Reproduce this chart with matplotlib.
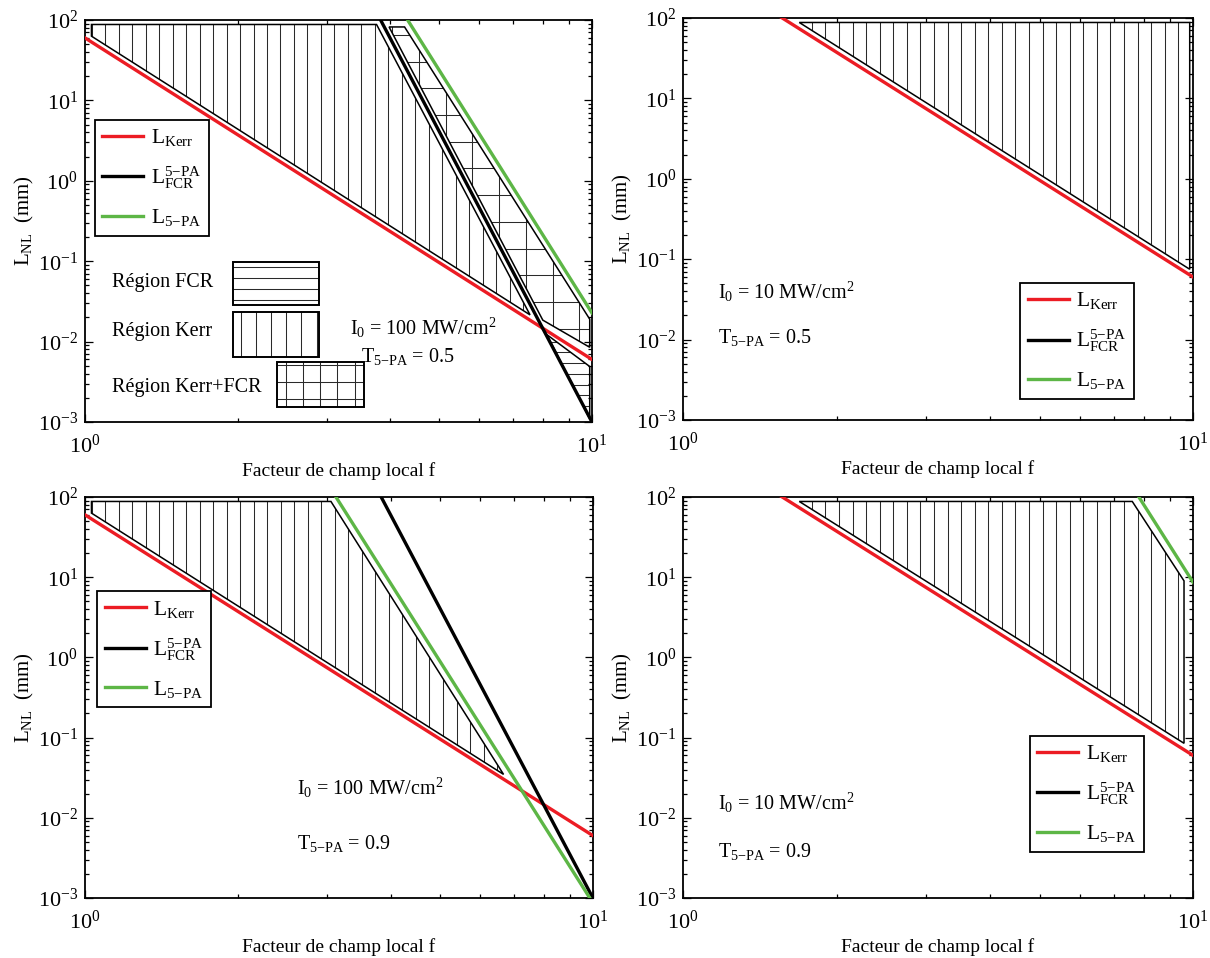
import numpy as np
import matplotlib
matplotlib.use("Agg")
import matplotlib.pyplot as plt
from matplotlib.collections import LineCollection
from matplotlib.patches import Polygon, Rectangle
from matplotlib.ticker import LogLocator, NullFormatter

plt.rcParams["font.family"] = ["Liberation Serif", "DejaVu Serif"]
plt.rcParams["mathtext.fontset"] = "custom"
plt.rcParams["mathtext.rm"] = "Liberation Serif"
plt.rcParams["mathtext.it"] = "Liberation Serif:italic"
plt.rcParams["mathtext.bf"] = "Liberation Serif:bold"
plt.rcParams["mathtext.default"] = "regular"

RED = "#ec1c24"
GREEN = "#5db646"

# --- lines (end points) ----------------------------------------------------
f_kerr = [1.0, 10.0]
L_kerr_100 = [60.0, 0.006]      # I0 = 100 MW/cm2
L_kerr_10 = [600.0, 0.06]       # I0 = 10 MW/cm2

f_fcr_100 = [3.83, 10.0]
L_fcr_100 = [100.0, 1e-3]
f_fcr_10 = [9.0, 10.0]
L_fcr_10 = [354.0, 100.0]

f_5pa_100_05 = [4.33, 10.0]
L_5pa_100_05 = [100.0, 0.0227]
f_5pa_100_09 = [3.12, 10.0]
L_5pa_100_09 = [100.0, 8.7e-4]
f_5pa_10_05 = [8.5, 10.0]
L_5pa_10_05 = [1160.0, 227.0]
f_5pa_10_09 = [7.83, 10.0]
L_5pa_10_09 = [100.0, 8.65]

# --- hatched regions (polygon vertices) ------------------------------------
kerr_tl_f = [1.03, 3.76, 7.55, 1.03]
kerr_tl_L = [88, 88, 0.0215, 63]
mix_tl_f = [3.98, 4.27, 9.9, 9.9, 8.0]
mix_tl_L = [82, 82, 0.019, 0.0085, 0.0185]
fcr_tl_f = [8.15, 9.9, 9.9]
fcr_tl_L = [0.0122, 0.0049, 0.0011]

kerr_tr_f = [1.69, 9.85, 9.85]
kerr_tr_L = [88, 88, 0.075]

kerr_bl_f = [1.03, 3.05, 6.67, 1.03]
kerr_bl_L = [88, 88, 0.0348, 63]

kerr_br_f = [1.69, 7.6, 9.6, 9.6]
kerr_br_L = [88, 88, 9.0, 0.085]

legend_labels = [r"L$_{\mathrm{Kerr}}$", r"L$_{\mathrm{FCR}}^{5{-}\mathrm{PA}}$",
                 r"L$_{5{-}\mathrm{PA}}$"]


def hatch(ax, patch, dx=None, dy=None, x0=0.0, y0=0.0):
    segs = []
    if dx:
        for x in np.arange(x0 + dx / 2, 1, dx):
            segs.append([(x, 0), (x, 1)])
    if dy:
        for y in np.arange(y0 + dy / 2, 1, dy):
            segs.append([(0, y), (1, y)])
    lc = LineCollection(segs, colors="#2a2a2a", linewidths=0.75,
                        transform=ax.transAxes, zorder=1.5)
    ax.add_collection(lc, autolim=False)
    lc.set_clip_path(patch)


def region(ax, f, L, dx=None, dy=None):
    poly = Polygon(np.column_stack([f, L]), closed=True, facecolor="none",
                   edgecolor="k", lw=1.1, zorder=2)
    ax.add_patch(poly)
    hatch(ax, poly, dx, dy)


def setup(ax):
    ax.set_xscale("log")
    ax.set_yscale("log")
    ax.set_xlim(1, 10)
    ax.set_ylim(1e-3, 1e2)
    ax.set_xticks([1, 10])
    ax.set_yticks([1e-3, 1e-2, 1e-1, 1, 10, 100])
    ax.xaxis.set_minor_locator(LogLocator(subs=np.arange(2, 10)))
    ax.yaxis.set_minor_locator(LogLocator(subs=np.arange(2, 10), numticks=20))
    ax.xaxis.set_minor_formatter(NullFormatter())
    ax.yaxis.set_minor_formatter(NullFormatter())
    ax.tick_params(which="both", direction="in", top=True, right=True,
                   labelsize=16, width=0.9)
    ax.tick_params(which="major", length=6)
    ax.tick_params(which="minor", length=3)
    ax.tick_params(axis="x", pad=9)
    ax.tick_params(axis="y", pad=5)
    for s in ax.spines.values():
        s.set_linewidth(1.3)
    ax.set_xlabel("Facteur de champ local f", fontsize=14, labelpad=3)
    ax.set_ylabel(r"L$_{\mathrm{NL}}$  (mm)", fontsize=15, labelpad=1)


def lines(ax, kerr, fcr, pa):
    ax.plot(kerr[0], kerr[1], color=RED, lw=2.4, label=legend_labels[0], zorder=3)
    ax.plot(fcr[0], fcr[1], color="k", lw=2.4, label=legend_labels[1], zorder=3)
    ax.plot(pa[0], pa[1], color=GREEN, lw=2.4, label=legend_labels[2], zorder=3)


def legend(ax, x, y):
    leg = ax.legend(loc="upper left", bbox_to_anchor=(x, y), fontsize=15.5,
                    frameon=True, fancybox=False, framealpha=1, edgecolor="k",
                    borderaxespad=0, handlelength=1.9, labelspacing=0.75,
                    handletextpad=0.35, borderpad=0.35)
    leg.get_frame().set_linewidth(1.3)


fig = plt.figure(figsize=(12.1, 9.58), dpi=100)
ax_tl = fig.add_axes([0.0702, 0.5595, 0.419, 0.4196])
ax_tr = fig.add_axes([0.5645, 0.5616, 0.4215, 0.4196])
ax_bl = fig.add_axes([0.0702, 0.0626, 0.4198, 0.4186])
ax_br = fig.add_axes([0.5645, 0.0626, 0.4215, 0.4186])

VX = 0.0266   # vertical hatch spacing (axes fraction)
for ax in (ax_tl, ax_tr, ax_bl, ax_br):
    setup(ax)

# top left : I0 = 100, T = 0.5
region(ax_tl, kerr_tl_f, kerr_tl_L, dx=VX)
region(ax_tl, mix_tl_f, mix_tl_L, dx=0.0527, dy=0.0664)
region(ax_tl, fcr_tl_f, fcr_tl_L, dy=0.0266)
lines(ax_tl, (f_kerr, L_kerr_100), (f_fcr_100, L_fcr_100), (f_5pa_100_05, L_5pa_100_05))
legend(ax_tl, 0.0197, 0.752)

samples = [("Région FCR", 0.346, (0.292, 0.291, 0.1695, 0.107), None, 0.027),
           ("Région Kerr", 0.226, (0.292, 0.162, 0.1695, 0.112), 0.03, None),
           ("Région Kerr+FCR", 0.087, (0.379, 0.037, 0.171, 0.112), 0.034, 0.042)]
for txt, ty, (rx, ry, rw, rh), dx, dy in samples:
    ax_tl.text(0.053, ty, txt, transform=ax_tl.transAxes, fontsize=14.5, va="center")
    rect = Rectangle((rx, ry), rw, rh, transform=ax_tl.transAxes, facecolor="none",
                     edgecolor="k", lw=1.4, zorder=2)
    ax_tl.add_patch(rect)
    hatch(ax_tl, rect, dx, dy, x0=rx, y0=ry)

ax_tl.text(0.523, 0.234, r"I$_0$ = 100 MW/cm$^2$", transform=ax_tl.transAxes,
           fontsize=14.5, va="center")
ax_tl.text(0.545, 0.162, r"T$_{5{-}\mathrm{PA}}$ = 0.5", transform=ax_tl.transAxes,
           fontsize=14.5, va="center")

# top right : I0 = 10, T = 0.5
region(ax_tr, kerr_tr_f, kerr_tr_L, dx=VX)
lines(ax_tr, (f_kerr, L_kerr_10), (f_fcr_10, L_fcr_10), (f_5pa_10_05, L_5pa_10_05))
legend(ax_tr, 0.661, 0.341)
ax_tr.text(0.069, 0.318, r"I$_0$ = 10 MW/cm$^2$", transform=ax_tr.transAxes,
           fontsize=14.5, va="center")
ax_tr.text(0.069, 0.204, r"T$_{5{-}\mathrm{PA}}$ = 0.5", transform=ax_tr.transAxes,
           fontsize=14.5, va="center")

# bottom left : I0 = 100, T = 0.9
region(ax_bl, kerr_bl_f, kerr_bl_L, dx=VX)
lines(ax_bl, (f_kerr, L_kerr_100), (f_fcr_100, L_fcr_100), (f_5pa_100_09, L_5pa_100_09))
legend(ax_bl, 0.024, 0.765)
ax_bl.text(0.417, 0.274, r"I$_0$ = 100 MW/cm$^2$", transform=ax_bl.transAxes,
           fontsize=14.5, va="center")
ax_bl.text(0.417, 0.135, r"T$_{5{-}\mathrm{PA}}$ = 0.9", transform=ax_bl.transAxes,
           fontsize=14.5, va="center")

# bottom right : I0 = 10, T = 0.9
region(ax_br, kerr_br_f, kerr_br_L, dx=VX)
lines(ax_br, (f_kerr, L_kerr_10), (f_fcr_10, L_fcr_10), (f_5pa_10_09, L_5pa_10_09))
legend(ax_br, 0.68, 0.405)
ax_br.text(0.069, 0.236, r"I$_0$ = 10 MW/cm$^2$", transform=ax_br.transAxes,
           fontsize=14.5, va="center")
ax_br.text(0.069, 0.115, r"T$_{5{-}\mathrm{PA}}$ = 0.9", transform=ax_br.transAxes,
           fontsize=14.5, va="center")

fig.savefig("out.png", dpi=100, facecolor="white")
